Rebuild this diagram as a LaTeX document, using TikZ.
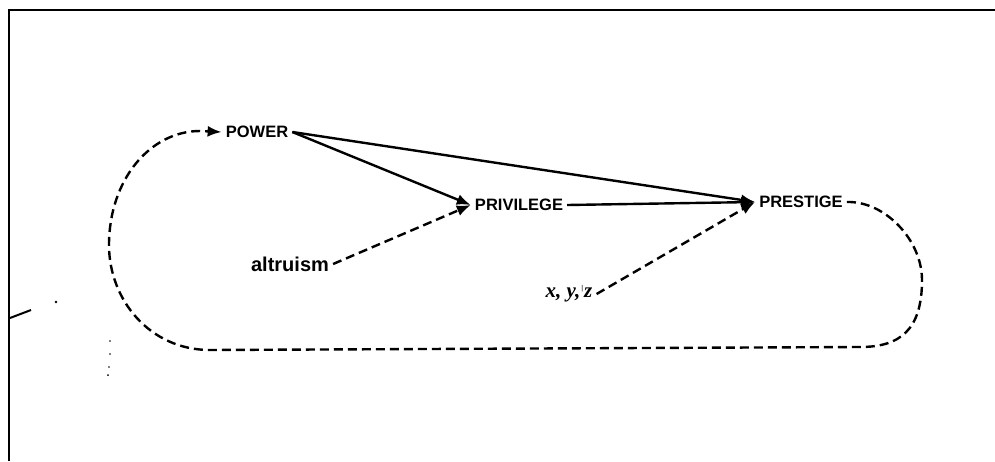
\documentclass[tikz,border=0pt]{standalone}
\usepackage{fontspec}
\setmainfont{Liberation Sans}
\newfontfamily\serifit{Liberation Serif}
\usetikzlibrary{arrows.meta}
\begin{document}
\begin{tikzpicture}[x=1pt,y=-1pt,
  lbl/.style={font=\fontsize{16.5}{19}\selectfont\bfseries, inner sep=4pt},
  solidarrow/.style={line width=2.4pt, -{Latex[length=14pt,width=11pt]}},
  dasharrow/.style={line width=2.4pt, dash pattern=on 9pt off 5pt, -{Latex[length=14pt,width=11pt]}},
  frame/.style={line width=2.6pt}]
\useasboundingbox (0,0) rectangle (995,461);
% frame
\draw[frame] (9,461) -- (9,10) -- (995,10);
% nodes
\node[lbl] (power) at (257,132) {POWER};
\node[lbl] (privilege) at (519,205) {PRIVILEGE};
\node[lbl] (prestige) at (801,202) {PRESTIGE};
\node[lbl, font=\fontsize{20}{24}\selectfont\bfseries] (altruism) at (290,264) {altruism};
\node[lbl, font=\fontsize{21}{24}\selectfont\serifit\bfseries\itshape] (xyz) at (569,294) {x, y,\kern1pt\raisebox{7pt}{\normalfont\fontsize{7}{7}\selectfont|}\kern1pt z};
% solid arrows
\draw[solidarrow] (power.east) -- (privilege.west);
\draw[solidarrow] (power.east) -- (prestige.west);
\draw[solidarrow] (privilege.east) -- (prestige.west);
% dashed arrows
\draw[dasharrow] (altruism.east) -- (privilege.west);
\draw[dasharrow] (xyz.east) -- (prestige.west);
% feedback loop
\draw[dasharrow] (prestige.east) .. controls (885,201) and (922,240) .. (922,280)
  .. controls (922,330) and (900,347) .. (860,347) -- (210,350)
  .. controls (150,350) and (109,300) .. (109,245)
  .. controls (109,180) and (150,131) .. (200,131) -- (power.west);
% stray marks
\draw[line width=2pt] (10,318) -- (31,310);
\fill (56,302) circle (1.3pt);
\fill (110,341) circle (0.9pt);
\fill (110,354) circle (0.9pt);
\fill (109,367) circle (0.9pt);
\fill (108,375) circle (1pt);
\end{tikzpicture}
\end{document}
